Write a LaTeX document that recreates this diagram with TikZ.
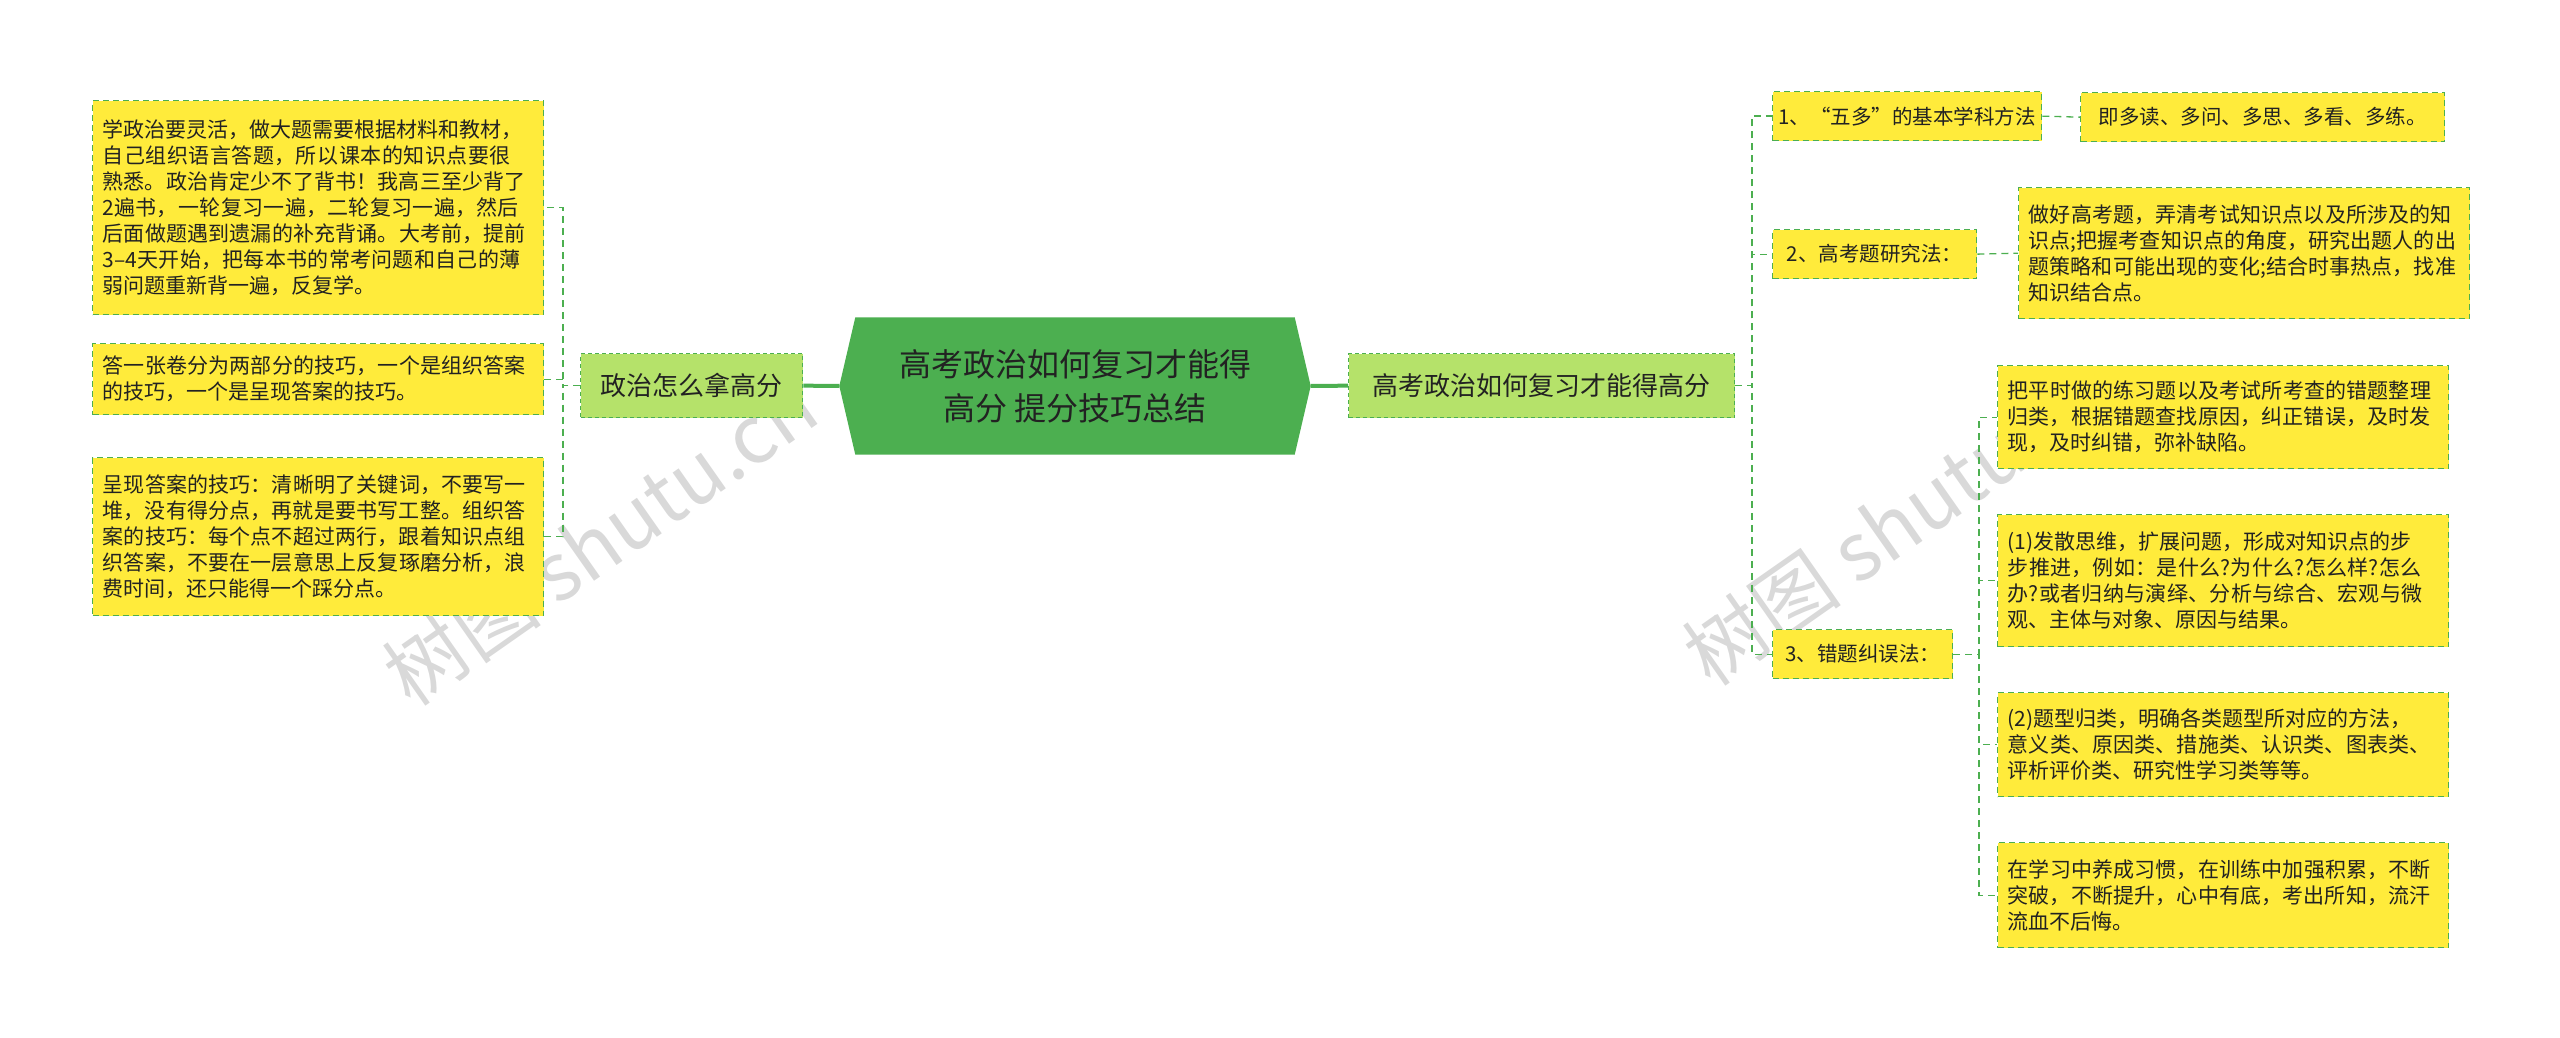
\documentclass[tikz,border=0pt]{standalone}
\usepackage{fontspec}
\setmainfont{Noto Sans CJK SC}
\XeTeXlinebreaklocale "zh"
\XeTeXlinebreakskip=0pt plus 1pt
\usetikzlibrary{shapes.geometric}
\definecolor{lg}{HTML}{4CAF50}
\definecolor{ye}{HTML}{FFEB3B}
\definecolor{mg}{HTML}{B5E26A}
\definecolor{tx}{HTML}{222222}
\begin{document}
\begin{tikzpicture}[x=1pt,y=-1pt,
  leaf/.style={draw=lg,dash pattern=on 6pt off 4pt,line width=1.3pt,fill=ye,text=tx,font=\fontsize{21}{26}\selectfont,align=left,inner sep=10pt,anchor=north west},
  item/.style={draw=lg,dash pattern=on 6pt off 4pt,line width=1.3pt,fill=ye,text=tx,font=\fontsize{20.5}{24}\selectfont,inner sep=0pt,anchor=north west},
  mid/.style={draw=lg,dash pattern=on 4pt off 3pt,line width=1.3pt,fill=mg,text=tx,font=\fontsize{26}{30}\selectfont,inner sep=0pt,anchor=north west},
  conn/.style={draw=lg,line width=1.3pt,dash pattern=on 7pt off 5pt}]
\useasboundingbox (0,0) rectangle (2560,1038);
% watermarks
\node[text=black!15,rotate=35,font=\fontsize{80}{80}\selectfont] (w1) at (600,540) {树图 shutu.cn};
\node[text=black!15,rotate=35,font=\fontsize{80}{80}\selectfont] (w2) at (1900,520) {树图 shutu.cn};
% centre
\node[minimum width=471pt,minimum height=137pt,inner sep=0pt] (c) at (1075,386) {};
\fill[lg] (c.west) -- ([xshift=16pt]c.north west) -- ([xshift=-16pt]c.north east) -- (c.east) -- ([xshift=-16pt]c.south east) -- ([xshift=16pt]c.south west) -- cycle;
\node[text=tx,font=\fontsize{32}{44}\selectfont,align=center] (ct) at (c.center) {高考政治如何复习才能得\\高分 提分技巧总结};
\node[mid,minimum width=222pt,minimum height=64pt] (L) at (580,353) {};
\node[font=\fontsize{26}{30}\selectfont,text=tx] at (L.center) {政治怎么拿高分};
\node[mid,minimum width=386pt,minimum height=64pt] (R) at (1348,353) {};
\node[font=\fontsize{26}{30}\selectfont,text=tx] at (R.center) {高考政治如何复习才能得高分};
% left leaves
\node[leaf,text width=431pt,minimum height=214pt] (l1) at (92,100) {学政治要灵活，做大题需要根据材料和教材，\\自己组织语言答题，所以课本的知识点要很熟悉。政治肯定少不了背书！我高三至少背了2遍书，一轮复习一遍，二轮复习一遍，然后后面做题遇到遗漏的补充背诵。大考前，提前3–4天开始，把每本书的常考问题和自己的薄弱问题重新背一遍，反复学。};
\node[leaf,text width=431pt,minimum height=71pt] (l2) at (92,343) {答一张卷分为两部分的技巧，一个是组织答案的技巧，一个是呈现答案的技巧。};
\node[leaf,text width=431pt,minimum height=158pt] (l3) at (92,457) {呈现答案的技巧：清晰明了关键词，不要写一堆，没有得分点，再就是要书写工整。组织答案的技巧：每个点不超过两行，跟着知识点组织答案，不要在一层意思上反复琢磨分析，浪费时间，还只能得一个踩分点。};
% right items
\node[item,minimum width=269pt,minimum height=49pt] (r1) at (1772,91) {};
\node[font=\fontsize{20.5}{24}\selectfont,text=tx] at (r1.center) {1、“五多”的基本学科方法};
\node[item,minimum width=204pt,minimum height=49pt] (r2) at (1772,229) {};
\node[font=\fontsize{20.5}{24}\selectfont,text=tx] at (r2.center) {2、高考题研究法：};
\node[item,minimum width=180pt,minimum height=49pt] (r3) at (1772,629) {};
\node[font=\fontsize{20.5}{24}\selectfont,text=tx] at (r3.center) {3、错题纠误法：};
\node[item,minimum width=364pt,minimum height=49pt] (a1) at (2080,92) {};
\node[font=\fontsize{20.5}{24}\selectfont,text=tx] at (a1.center) {即多读、多问、多思、多看、多练。};
\node[leaf,text width=431pt,minimum height=131pt] (b1) at (2018,187) {做好高考题，弄清考试知识点以及所涉及的知识点;把握考查知识点的角度，研究出题人的出题策略和可能出现的变化;结合时事热点，找准知识结合点。};
\node[leaf,text width=431pt,minimum height=103pt] (e1) at (1997,365) {把平时做的练习题以及考试所考查的错题整理归类，根据错题查找原因，纠正错误，及时发现，及时纠错，弥补缺陷。};
\node[leaf,text width=431pt,minimum height=132pt] (e2) at (1997,514) {(1)发散思维，扩展问题，形成对知识点的步\\步推进，例如：是什么?为什么?怎么样?怎么办?或者归纳与演绎、分析与综合、宏观与微观、主体与对象、原因与结果。};
\node[leaf,text width=431pt,minimum height=104pt] (e3) at (1997,692) {(2)题型归类，明确各类题型所对应的方法，\\意义类、原因类、措施类、认识类、图表类、评析评价类、研究性学习类等等。};
\node[leaf,text width=431pt,minimum height=105pt] (e4) at (1997,842) {在学习中养成习惯，在训练中加强积累，不断突破，不断提升，心中有底，考出所知，流汗流血不后悔。};
% connectors
\draw[lg,line width=4pt] (c.west) -- (L.east);
\draw[lg,line width=4pt] (c.east) -- (R.west);
\coordinate (tl) at (563,0);
\foreach \n in {l1,l2,l3}{\draw[conn] (L.west) -| (tl |- L.west) |- (\n.east);}
\coordinate (tr) at (1752,0);
\foreach \n in {r1,r2,r3}{\draw[conn] (R.east) -| (tr |- R.east) |- (\n.west);}
\draw[conn] (r1.east) -- (a1.west);
\draw[conn] (r2.east) -- (b1.west);
\coordinate (t3) at (1979,0);
\foreach \n in {e1,e2,e3,e4}{\draw[conn] (r3.east) -| (t3 |- r3.east) |- (\n.west);}
\end{tikzpicture}
\end{document}
